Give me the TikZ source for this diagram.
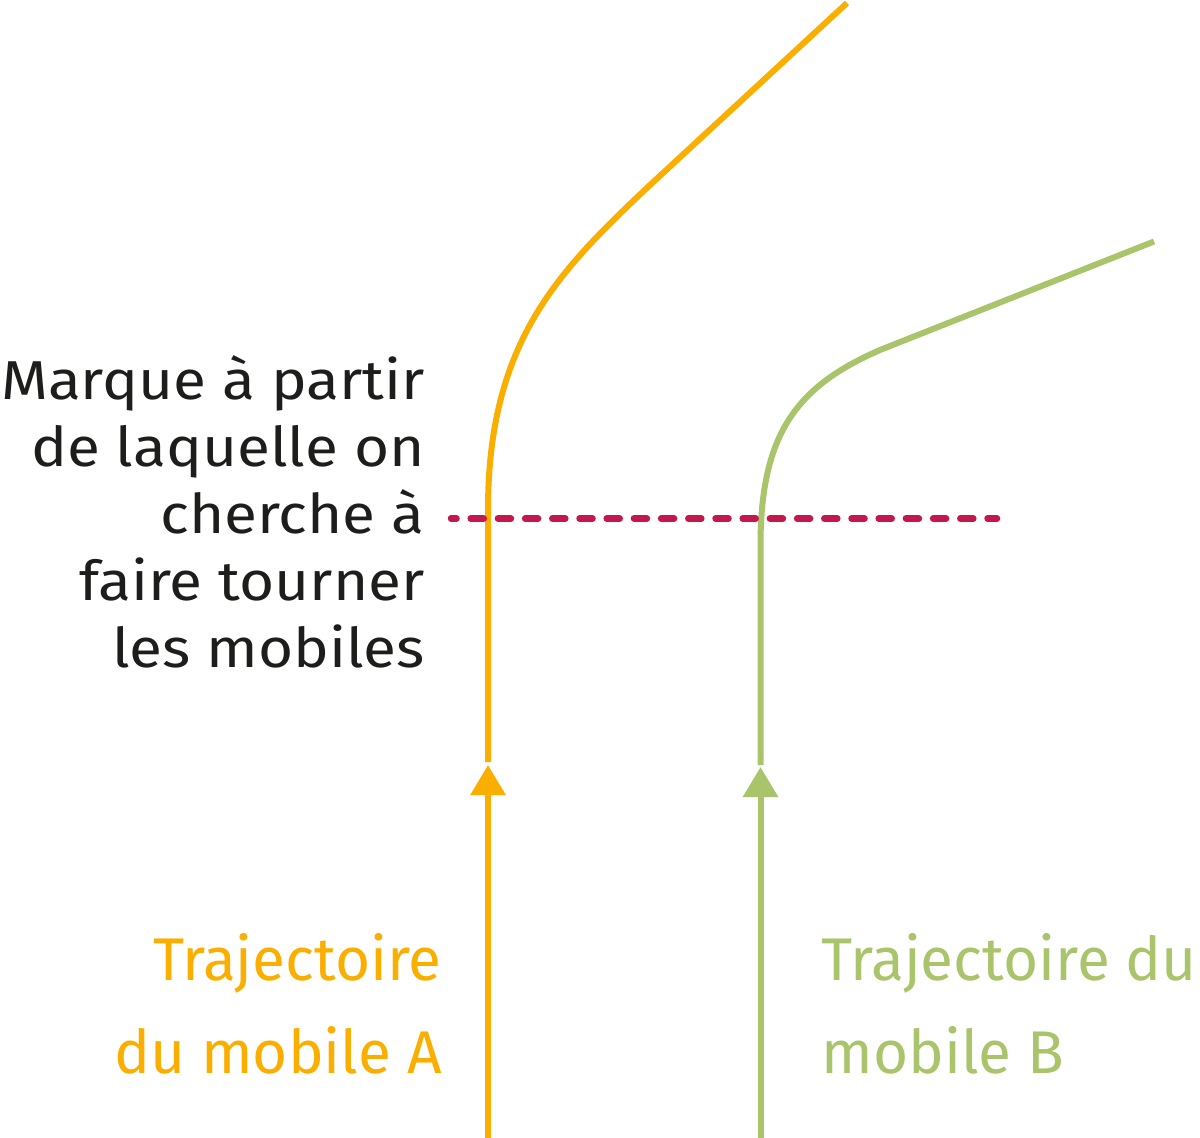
\documentclass[tikz,border=0pt]{standalone}
\usepackage{fontspec}
\setmainfont{Fira Sans}
\newfontfamily\markfont{Fira Sans}[FakeStretch=1.1]
\usetikzlibrary{arrows.meta}
\definecolor{trajOrange}{RGB}{249,174,0}
\definecolor{trajGreen}{RGB}{169,196,106}
\definecolor{markRed}{RGB}{195,23,78}
\definecolor{textBlack}{RGB}{29,29,27}

\begin{document}
\begin{tikzpicture}[
  traj/.style={line width=0.12cm},
  dirtip/.style={-{Triangle[length=0.6cm,width=0.68cm]}},
  trajText/.style={inner sep=0pt, font=\fontsize{34.3pt}{52.9pt}\selectfont}
]
\useasboundingbox (0,0) rectangle (24,-22.76);
% Trajectories of the two mobiles
\coordinate (aIn) at (9.76,-22.76);
\coordinate (aTip) at (9.76,-15.3);
\coordinate (aGo) at (9.76,-15.24);
\coordinate (aOut) at (16.94,-0.06);
\coordinate (bIn) at (15.21,-22.76);
\coordinate (bTip) at (15.21,-15.34);
\coordinate (bGo) at (15.21,-15.3);
\coordinate (bOut) at (23.08,-4.83);
\draw[traj, trajOrange, dirtip] (aIn) -- (aTip);
\draw[traj, trajOrange] (aGo) -- (9.76,-10.2) .. controls (9.76,-6.8) and (11.2,-5.4) .. (13,-3.7) -- (aOut);
\draw[traj, trajGreen, dirtip] (bIn) -- (bTip);
\draw[traj, trajGreen] (bGo) -- (15.21,-10.9) .. controls (15.21,-8.6) and (16,-7.7) .. (17.6,-7) -- (bOut);

% Marker line
\coordinate (markL) at (9.02,-10.37);
\coordinate (markR) at (19.94,-10.37);
\draw[markRed, line width=0.13cm, line cap=round, dash pattern=on 0.26cm off 0.284cm, dash phase=0.15cm] (markL) -- (markR);

\node[anchor=base east, inner sep=0pt, align=right, textBlack, font=\markfont\fontsize{31.2pt}{38.1pt}\selectfont] (markText) at (8.5,-13.34) {Marque à partir\\de laquelle on\\cherche à\\faire tourner\\les mobiles};
\node[trajText, trajOrange, anchor=base east, align=right] (aText) at (8.84,-21.46) {Trajectoire\\du mobile A};
\node[trajText, trajGreen, anchor=base west, align=left] (bText) at (16.42,-21.46) {Trajectoire du\\mobile B};
\end{tikzpicture}
\end{document}
